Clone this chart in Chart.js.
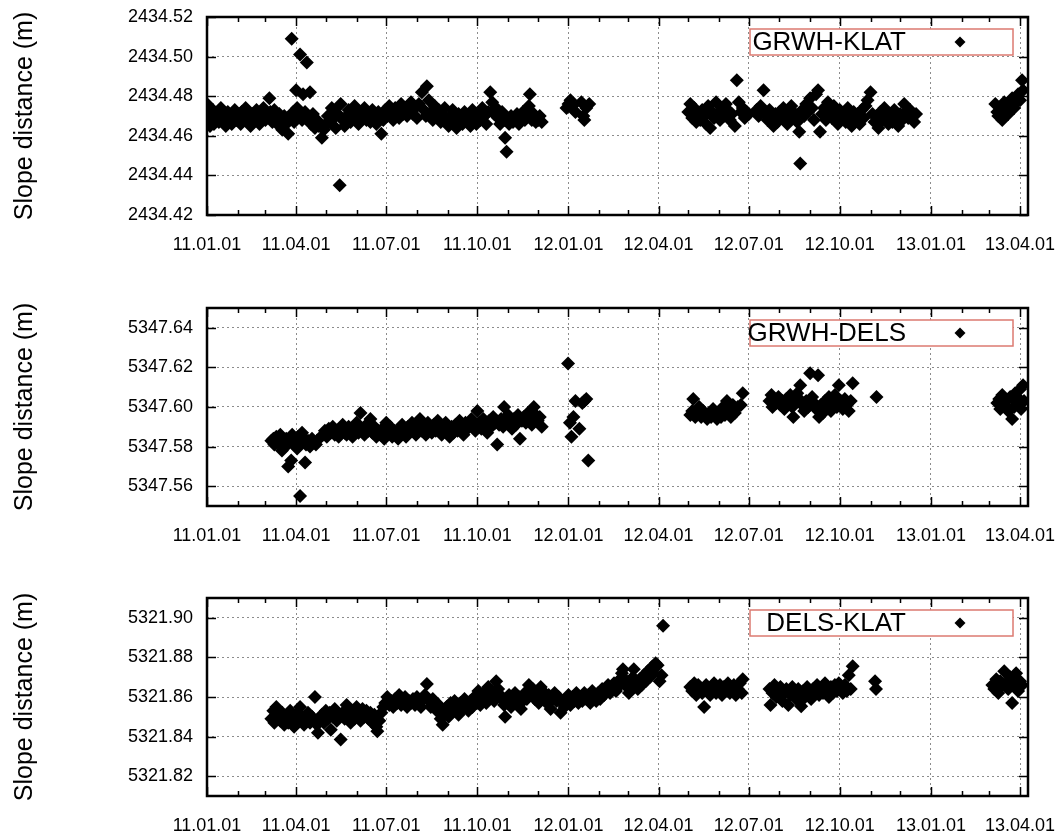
<!DOCTYPE html>
<html>
<head>
<meta charset="utf-8">
<script src="https://cdn.jsdelivr.net/npm/chart.js@4.4.1/dist/chart.umd.min.js"></script>
<style>
  html, body { margin: 0; padding: 0; background: #fff; }
  #wrap { position: relative; width: 1064px; height: 839px; overflow: hidden; }
  canvas { position: absolute; left: 0; }
</style>
</head>
<body>
<div id="wrap">
  <canvas id="c1" width="1064" height="259" style="top:0"></canvas>
  <canvas id="c2" width="1064" height="259" style="top:291px"></canvas>
  <canvas id="c3" width="1064" height="259" style="top:581px"></canvas>
</div>
<script>
// x values are days since 2011-01-01
const quarterLabels = ['11.01.01', '11.04.01', '11.07.01', '11.10.01', '12.01.01',
  '12.04.01', '12.07.01', '12.10.01', '13.01.01', '13.04.01'];
const xMax = 829;

// GRWH-KLAT
const grwhKlatTicks = [2434.42, 2434.44, 2434.46, 2434.48, 2434.50, 2434.52];
const grwhKlatRange = [2434.42, 2434.52];
const grwhKlatDays = [
  0, 1, 2, 3, 4, 6, 7, 9, 11, 12,
  14, 16, 18, 19, 21, 23, 25, 26, 28, 30,
  32, 34, 35, 37, 39, 41, 43, 44, 46, 48,
  50, 52, 53, 55, 57, 59, 61, 63, 64, 66,
  68, 70, 71, 73, 75, 76, 78, 80, 82, 84,
  85.5, 87, 88, 90, 91, 93, 94, 96, 97, 99,
  100.8, 102, 104, 105, 107, 109, 111, 113, 116, 118,
  120, 122, 124, 126, 128, 130, 132, 134, 135, 137,
  139, 141, 143, 145, 147, 149, 151, 153, 155, 157,
  159, 161, 163, 165, 167, 169, 171, 173, 175, 176,
  178, 180, 182, 184, 186, 188, 190, 192, 194, 196,
  198, 200, 202, 204, 206, 208, 210, 212, 214, 217,
  219, 221, 222, 224, 226, 228, 230, 232, 234, 236,
  238, 240, 242, 244, 246, 248, 250, 252, 254, 256,
  258, 260, 262, 264, 266, 268, 270, 272, 274, 276,
  278, 280, 282, 284, 286, 288, 290, 292, 294, 296,
  298, 300, 301, 302.5, 305, 307, 309, 311, 313, 315,
  317, 319, 321, 323, 325, 326, 328, 330, 332, 334.5,
  336, 338, 363, 365, 367, 369, 372, 378, 380, 381,
  383, 386, 486, 488, 490, 492, 494, 496, 498, 500,
  502, 504, 506, 508, 510, 512, 514, 516, 518, 520,
  522, 524, 526, 528, 530, 533, 535, 537, 539, 541,
  543, 545, 547, 555, 557, 559, 562, 564, 566, 568,
  570, 572, 574, 576, 578, 580, 582, 584, 586, 588,
  590, 592, 594, 596, 598, 599, 601, 603, 605, 607,
  609, 611, 613, 615, 617, 619, 621, 623, 625, 627,
  629, 631, 633, 635, 637, 639, 641, 643, 645, 647,
  649, 651, 653, 655, 657, 659, 661, 663, 665, 667,
  670, 672, 674, 676, 678, 680, 682, 684, 686, 688,
  690, 692, 694, 696, 698, 700, 702, 704, 706, 708,
  710, 712, 714, 716, 796, 798, 799, 801, 803, 805,
  807, 809, 811, 813, 815, 817, 819, 821, 823, 824
];
const grwhKlatDist = [
  2434.476, 2434.468, 2434.472, 2434.465, 2434.470, 2434.473, 2434.466, 2434.469, 2434.471, 2434.467,
  2434.474, 2434.468, 2434.470, 2434.465, 2434.472, 2434.469, 2434.466, 2434.471, 2434.473, 2434.468,
  2434.470, 2434.466, 2434.472, 2434.469, 2434.474, 2434.467, 2434.470, 2434.465, 2434.471, 2434.468,
  2434.473, 2434.469, 2434.466, 2434.471, 2434.474, 2434.468, 2434.470, 2434.479, 2434.472, 2434.467,
  2434.473, 2434.469, 2434.466, 2434.471, 2434.468, 2434.463, 2434.470, 2434.466, 2434.461, 2434.469,
  2434.509, 2434.472, 2434.467, 2434.483, 2434.474, 2434.470, 2434.501, 2434.468, 2434.481, 2434.472,
  2434.497, 2434.469, 2434.482, 2434.466, 2434.471, 2434.464, 2434.468, 2434.465, 2434.459, 2434.463,
  2434.466, 2434.470, 2434.467, 2434.474, 2434.469, 2434.464, 2434.471, 2434.435, 2434.476, 2434.468,
  2434.465, 2434.470, 2434.473, 2434.467, 2434.471, 2434.475, 2434.469, 2434.466, 2434.472, 2434.470,
  2434.474, 2434.468, 2434.471, 2434.467, 2434.473, 2434.470, 2434.466, 2434.472, 2434.469, 2434.461,
  2434.468, 2434.473, 2434.470, 2434.475, 2434.471, 2434.468, 2434.474, 2434.472, 2434.469, 2434.476,
  2434.471, 2434.474, 2434.470, 2434.473, 2434.477, 2434.471, 2434.474, 2434.469, 2434.476, 2434.482,
  2434.473, 2434.470, 2434.485, 2434.478, 2434.472, 2434.468, 2434.475, 2434.470, 2434.473, 2434.467,
  2434.471, 2434.474, 2434.468, 2434.465, 2434.470, 2434.473, 2434.467, 2434.464, 2434.471, 2434.469,
  2434.466, 2434.472, 2434.468, 2434.470, 2434.465, 2434.473, 2434.469, 2434.466, 2434.471, 2434.468,
  2434.474, 2434.470, 2434.466, 2434.472, 2434.482, 2434.477, 2434.471, 2434.474, 2434.469, 2434.466,
  2434.472, 2434.468, 2434.459, 2434.452, 2434.466, 2434.470, 2434.467, 2434.468, 2434.471, 2434.466,
  2434.469, 2434.472, 2434.468, 2434.470, 2434.475, 2434.481, 2434.468, 2434.471, 2434.467, 2434.468,
  2434.470, 2434.467, 2434.474, 2434.476, 2434.478, 2434.475, 2434.472, 2434.477, 2434.470, 2434.468,
  2434.474, 2434.476, 2434.472, 2434.476, 2434.469, 2434.474, 2434.467, 2434.471, 2434.468, 2434.473,
  2434.470, 2434.466, 2434.475, 2434.464, 2434.472, 2434.469, 2434.477, 2434.471, 2434.468, 2434.474,
  2434.470, 2434.476, 2434.473, 2434.468, 2434.471, 2434.465, 2434.488, 2434.477, 2434.472, 2434.474,
  2434.469, 2434.472, 2434.471, 2434.473, 2434.470, 2434.475, 2434.483, 2434.471, 2434.468, 2434.473,
  2434.469, 2434.465, 2434.471, 2434.467, 2434.472, 2434.469, 2434.474, 2434.470, 2434.466, 2434.472,
  2434.475, 2434.469, 2434.471, 2434.467, 2434.462, 2434.446, 2434.473, 2434.470, 2434.476, 2434.472,
  2434.479, 2434.474, 2434.468, 2434.481, 2434.483, 2434.462, 2434.471, 2434.474, 2434.468, 2434.477,
  2434.472, 2434.469, 2434.475, 2434.470, 2434.466, 2434.473, 2434.469, 2434.471, 2434.467, 2434.474,
  2434.470, 2434.465, 2434.472, 2434.468, 2434.471, 2434.466, 2434.473, 2434.469, 2434.475, 2434.478,
  2434.482, 2434.471, 2434.467, 2434.470, 2434.464, 2434.472, 2434.468, 2434.474, 2434.470, 2434.466,
  2434.471, 2434.467, 2434.473, 2434.469, 2434.465, 2434.471, 2434.468, 2434.476, 2434.472, 2434.469,
  2434.473, 2434.470, 2434.467, 2434.471, 2434.476, 2434.472, 2434.470, 2434.474, 2434.468, 2434.477,
  2434.473, 2434.471, 2434.475, 2434.479, 2434.474, 2434.477, 2434.481, 2434.478, 2434.488, 2434.483
];

// GRWH-DELS
const grwhDelsTicks = [5347.56, 5347.58, 5347.60, 5347.62, 5347.64];
const grwhDelsRange = [5347.55, 5347.65];
const grwhDelsDays = [
  65, 67, 68, 70, 72, 74, 75.7, 77, 79, 80,
  82, 83, 85, 86, 88, 89, 91, 92, 94, 95,
  96, 98, 99, 100, 102, 104, 106, 108, 110, 111,
  117, 119, 121, 123, 125, 127, 129, 131, 133, 135,
  137, 139, 141, 143, 145, 147, 149, 151, 153, 155,
  157, 159, 161, 163, 165, 167, 169, 171, 173, 175,
  177, 179, 181, 183, 185, 187, 189, 191, 193, 195,
  197, 199, 201, 203, 205, 207, 209, 211, 213, 215,
  217, 219, 221, 223, 225, 227, 229, 231, 233, 235,
  237, 239, 241, 243, 245, 247, 249, 251, 253, 255,
  257, 259, 261, 263, 265, 267, 269, 271, 273, 275,
  277, 279, 281, 283, 285, 287, 289, 291, 293, 295,
  297, 299, 300, 302, 304, 306, 308, 310, 312, 314,
  316, 318, 320, 322, 324, 326, 328, 330, 332, 334,
  336, 338, 364.6, 366.5, 368, 370, 372, 376, 379, 381,
  383, 385, 488, 490, 491, 493, 495, 497, 499, 501,
  503, 505, 507, 509, 511, 513, 515, 517, 519, 521,
  523, 525, 527, 529, 531, 533, 536, 539, 541, 568,
  570, 571, 573, 575, 577, 579, 581, 583, 585, 587,
  589, 591, 592, 594, 596, 598, 599, 601, 603, 605,
  607, 609, 611, 613, 615, 617, 618, 620, 622, 624,
  626, 628, 630, 632, 634, 636, 638, 640, 642, 644,
  646, 648, 650, 652, 676, 798, 800, 801, 803, 805,
  807, 809, 811, 813, 815, 816, 818, 820, 821, 822,
  824, 825
];
const grwhDelsDist = [
  5347.583, 5347.584, 5347.581, 5347.585, 5347.582, 5347.586, 5347.578, 5347.583, 5347.580, 5347.584,
  5347.570, 5347.582, 5347.573, 5347.586, 5347.581, 5347.583, 5347.579, 5347.585, 5347.555, 5347.582,
  5347.587, 5347.584, 5347.572, 5347.581, 5347.583, 5347.580, 5347.584, 5347.582, 5347.581, 5347.583,
  5347.586, 5347.588, 5347.585, 5347.589, 5347.587, 5347.590, 5347.586, 5347.588, 5347.585, 5347.589,
  5347.591, 5347.587, 5347.586, 5347.590, 5347.588, 5347.585, 5347.589, 5347.592, 5347.587, 5347.597,
  5347.589, 5347.586, 5347.591, 5347.588, 5347.594, 5347.587, 5347.590, 5347.585, 5347.588, 5347.586,
  5347.589, 5347.584, 5347.592, 5347.587, 5347.590, 5347.585, 5347.588, 5347.586, 5347.584, 5347.589,
  5347.591, 5347.587, 5347.585, 5347.590, 5347.588, 5347.592, 5347.589, 5347.586, 5347.591, 5347.594,
  5347.588, 5347.590, 5347.586, 5347.592, 5347.589, 5347.587, 5347.591, 5347.588, 5347.593, 5347.590,
  5347.586, 5347.589, 5347.592, 5347.588, 5347.585, 5347.590, 5347.587, 5347.591, 5347.588, 5347.593,
  5347.590, 5347.586, 5347.592, 5347.589, 5347.591, 5347.594, 5347.590, 5347.588, 5347.598, 5347.592,
  5347.589, 5347.594, 5347.591, 5347.587, 5347.593, 5347.590, 5347.595, 5347.592, 5347.581, 5347.591,
  5347.594, 5347.590, 5347.600, 5347.593, 5347.596, 5347.592, 5347.589, 5347.594, 5347.591, 5347.596,
  5347.584, 5347.593, 5347.595, 5347.592, 5347.597, 5347.594, 5347.591, 5347.600, 5347.596, 5347.593,
  5347.595, 5347.590, 5347.622, 5347.592, 5347.585, 5347.595, 5347.603, 5347.589, 5347.602, 5347.603,
  5347.604, 5347.573, 5347.596, 5347.598, 5347.604, 5347.595, 5347.597, 5347.600, 5347.595, 5347.598,
  5347.596, 5347.594, 5347.597, 5347.595, 5347.599, 5347.596, 5347.594, 5347.597, 5347.595, 5347.600,
  5347.596, 5347.603, 5347.598, 5347.595, 5347.601, 5347.597, 5347.600, 5347.601, 5347.607, 5347.603,
  5347.606, 5347.600, 5347.604, 5347.602, 5347.605, 5347.601, 5347.603, 5347.599, 5347.604, 5347.602,
  5347.606, 5347.600, 5347.595, 5347.603, 5347.607, 5347.604, 5347.611, 5347.601, 5347.598, 5347.603,
  5347.600, 5347.617, 5347.605, 5347.602, 5347.599, 5347.616, 5347.595, 5347.601, 5347.597, 5347.603,
  5347.600, 5347.605, 5347.598, 5347.602, 5347.606, 5347.600, 5347.611, 5347.603, 5347.599, 5347.604,
  5347.601, 5347.598, 5347.603, 5347.612, 5347.605, 5347.602, 5347.604, 5347.599, 5347.606, 5347.601,
  5347.603, 5347.598, 5347.605, 5347.594, 5347.600, 5347.607, 5347.602, 5347.604, 5347.609, 5347.599,
  5347.611, 5347.603
];

// DELS-KLAT
const delsKlatTicks = [5321.82, 5321.84, 5321.86, 5321.88, 5321.90];
const delsKlatRange = [5321.81, 5321.91];
const delsKlatDays = [
  65, 67, 68, 70, 72, 74, 76, 78, 80, 82,
  84, 86, 88, 90, 92, 94, 96, 98, 100, 102,
  104, 106, 108, 109, 111, 112, 114, 116, 118, 120,
  122, 124, 125, 127, 129, 131, 133, 135, 137, 139,
  141, 143, 145, 147, 149, 151, 153, 155, 157, 159,
  161, 163, 165, 167, 169, 171, 172, 174, 176, 178,
  180, 182, 184, 186, 188, 190, 192, 194, 196, 198,
  200, 202, 204, 206, 208, 210, 212, 214, 216, 218,
  220, 222, 224, 226, 228, 230, 232, 234, 236, 238,
  240, 242, 244, 246, 248, 250, 252, 254, 256, 258,
  260, 262, 264, 266, 268, 270, 272, 274, 276, 278,
  280, 282, 284, 286, 288, 290, 292, 294, 296, 298,
  300, 301, 303, 305, 307, 309, 311, 313, 315, 317,
  319, 321, 323, 325, 327, 329, 331, 333, 335, 337,
  339, 341, 343, 345, 347, 349, 351, 353, 355, 357,
  359, 361, 363, 365, 367, 369, 371, 373, 375, 377,
  379, 381, 383, 385, 387, 389, 391, 393, 395, 397,
  399, 401, 403, 405, 407, 409, 411, 413, 415, 417,
  419, 420, 422, 424, 426, 428, 430, 431, 433, 435,
  437, 439, 441, 443, 445, 447, 449, 451, 453, 455,
  457, 459, 460.5, 488, 490, 492, 494, 496, 498, 500,
  502, 504, 506, 508, 510, 512, 514, 516, 518, 520,
  522, 524, 526, 528, 530, 532, 534, 536, 538, 540,
  541, 568, 569, 571, 573, 575, 577, 579, 581, 583,
  585, 587, 589, 591, 593, 595, 597, 599, 600, 602,
  604, 606, 608, 610, 612, 614, 616, 618, 620, 622,
  624, 626, 628, 630, 632, 634, 636, 638, 640, 642,
  644, 646, 648, 650, 652, 674.6, 675.5, 793, 795, 797,
  799, 801, 803, 805, 807, 809, 811, 813, 815, 817,
  819, 821, 823
];
const delsKlatDist = [
  5321.849, 5321.853, 5321.847, 5321.855, 5321.850, 5321.848, 5321.852, 5321.846, 5321.850, 5321.847,
  5321.853, 5321.849, 5321.845, 5321.851, 5321.848, 5321.855, 5321.850, 5321.846, 5321.849, 5321.852,
  5321.847, 5321.850, 5321.848, 5321.860, 5321.846, 5321.842, 5321.849, 5321.851, 5321.847, 5321.853,
  5321.849, 5321.852, 5321.8435, 5321.850, 5321.854, 5321.848, 5321.851, 5321.8385, 5321.852, 5321.849,
  5321.856, 5321.850, 5321.847, 5321.853, 5321.849, 5321.855, 5321.851, 5321.848, 5321.854, 5321.850,
  5321.853, 5321.849, 5321.852, 5321.847, 5321.851, 5321.845, 5321.8427, 5321.848, 5321.852, 5321.855,
  5321.857, 5321.860, 5321.856, 5321.858, 5321.855, 5321.859, 5321.857, 5321.861, 5321.856, 5321.858,
  5321.860, 5321.855, 5321.858, 5321.857, 5321.859, 5321.856, 5321.860, 5321.858, 5321.855, 5321.859,
  5321.861, 5321.8666, 5321.858, 5321.855, 5321.859, 5321.857, 5321.853, 5321.856, 5321.849, 5321.846,
  5321.852, 5321.855, 5321.850, 5321.857, 5321.853, 5321.858, 5321.855, 5321.851, 5321.857, 5321.854,
  5321.859, 5321.856, 5321.853, 5321.858, 5321.855, 5321.860, 5321.857, 5321.863, 5321.856, 5321.859,
  5321.862, 5321.857, 5321.865, 5321.860, 5321.863, 5321.858, 5321.868, 5321.864, 5321.861, 5321.859,
  5321.856, 5321.850, 5321.858, 5321.861, 5321.855, 5321.859, 5321.862, 5321.857, 5321.860, 5321.854,
  5321.858, 5321.862, 5321.859, 5321.866, 5321.861, 5321.864, 5321.859, 5321.862, 5321.857, 5321.865,
  5321.860, 5321.862, 5321.857, 5321.861, 5321.854, 5321.859, 5321.862, 5321.858, 5321.860, 5321.852,
  5321.857, 5321.855, 5321.859, 5321.861, 5321.856, 5321.860, 5321.858, 5321.862, 5321.857, 5321.860,
  5321.858, 5321.862, 5321.859, 5321.861, 5321.857, 5321.863, 5321.860, 5321.858, 5321.862, 5321.859,
  5321.864, 5321.861, 5321.863, 5321.866, 5321.862, 5321.864, 5321.867, 5321.863, 5321.865, 5321.869,
  5321.872, 5321.874, 5321.866, 5321.868, 5321.862, 5321.865, 5321.870, 5321.874, 5321.867, 5321.864,
  5321.869, 5321.866, 5321.871, 5321.868, 5321.873, 5321.870, 5321.875, 5321.872, 5321.877, 5321.876,
  5321.868, 5321.871, 5321.896, 5321.865, 5321.863, 5321.867, 5321.861, 5321.866, 5321.864, 5321.862,
  5321.855, 5321.866, 5321.863, 5321.861, 5321.865, 5321.867, 5321.862, 5321.864, 5321.866, 5321.861,
  5321.865, 5321.863, 5321.867, 5321.862, 5321.864, 5321.866, 5321.861, 5321.864, 5321.867, 5321.862,
  5321.869, 5321.864, 5321.856, 5321.862, 5321.866, 5321.860, 5321.863, 5321.865, 5321.858, 5321.862,
  5321.864, 5321.856, 5321.861, 5321.865, 5321.862, 5321.859, 5321.864, 5321.861, 5321.8553, 5321.863,
  5321.860, 5321.865, 5321.862, 5321.859, 5321.864, 5321.862, 5321.866, 5321.861, 5321.864, 5321.862,
  5321.867, 5321.863, 5321.860, 5321.865, 5321.862, 5321.866, 5321.863, 5321.867, 5321.864, 5321.862,
  5321.866, 5321.863, 5321.871, 5321.864, 5321.8755, 5321.868, 5321.864, 5321.866, 5321.864, 5321.869,
  5321.862, 5321.868, 5321.866, 5321.873, 5321.867, 5321.864, 5321.870, 5321.857, 5321.866, 5321.872,
  5321.863, 5321.868, 5321.866
];

const FONT = '"Liberation Sans", Arial, Helvetica, sans-serif';
Chart.defaults.font.family = FONT;
Chart.defaults.color = '#000';

const baseDay = Date.UTC(2011, 0, 1);
const toDay = (s) => {
  const p = s.split('.').map(Number);
  return (Date.UTC(2000 + p[0], p[1] - 1, p[2]) - baseDay) / 86400000;
};
const quarterDays = quarterLabels.map(toDay);
const monthDays = [];
for (let y = 2011; y <= 2013; y++) {
  for (let m = 0; m < 12; m++) {
    const d = (Date.UTC(y, m, 1) - baseDay) / 86400000;
    if (d <= xMax) monthDays.push(d);
  }
}

// box round the plot with inward tick marks, like gnuplot
const framePlugin = {
  id: 'frame',
  beforeDatasetsDraw(chart) {
    const { ctx, chartArea: a, scales } = chart;
    ctx.save();
    ctx.strokeStyle = '#000';
    ctx.lineWidth = 1.5;
    ctx.beginPath();
    monthDays.forEach((d) => {
      const px = Math.round(scales.x.getPixelForValue(d)) + 0.5;
      const len = quarterDays.includes(d) ? 9 : 5;
      ctx.moveTo(px, a.top); ctx.lineTo(px, a.top + len);
      ctx.moveTo(px, a.bottom); ctx.lineTo(px, a.bottom - len);
    });
    scales.y.ticks.forEach((t) => {
      const py = Math.round(scales.y.getPixelForValue(t.value)) + 0.5;
      ctx.moveTo(a.left, py); ctx.lineTo(a.left + 9, py);
      ctx.moveTo(a.right, py); ctx.lineTo(a.right - 9, py);
    });
    ctx.stroke();
    ctx.lineWidth = 2.5;
    ctx.strokeRect(a.left, a.top, a.right - a.left, a.bottom - a.top);
    ctx.restore();
  }
};

// legend: label on the left, marker on the right, thin red box
const boxLegend = {
  id: 'boxLegend',
  afterDatasetsDraw(chart) {
    const { ctx, chartArea: a } = chart;
    const label = chart.data.datasets[0].label;
    const right = a.right - 15, left = right - 263, top = a.top + 12, h = 26;
    const cy = top + h / 2;
    ctx.save();
    ctx.fillStyle = '#fff';
    ctx.fillRect(left, top, right - left, h);
    ctx.strokeStyle = '#dc7a70';
    ctx.lineWidth = 1.5;
    ctx.strokeRect(left, top, right - left, h);
    ctx.fillStyle = '#000';
    ctx.font = '26px ' + FONT;
    ctx.textAlign = 'right';
    ctx.textBaseline = 'middle';
    ctx.fillText(label, a.right - 122, cy + 1);
    const mx = a.right - 68, r = 5.5;
    ctx.beginPath();
    ctx.moveTo(mx - r, cy); ctx.lineTo(mx, cy - r); ctx.lineTo(mx + r, cy); ctx.lineTo(mx, cy + r);
    ctx.closePath();
    ctx.fill();
    ctx.restore();
  }
};

function makePanel(id, label, days, dist, yTicks, yRange) {
  return new Chart(document.getElementById(id), {
    type: 'scatter',
    data: {
      datasets: [{
        label: label,
        data: days.map((d, i) => ({ x: d, y: dist[i] })),
        pointStyle: 'rectRot',
        pointRadius: 7,
        pointBorderWidth: 0,
        backgroundColor: '#000',
        borderColor: '#000'
      }]
    },
    options: {
      responsive: false,
      animation: false,
      devicePixelRatio: 1,
      layout: { padding: { top: 17, right: 36, left: 0, bottom: 0 } },
      plugins: { legend: { display: false }, tooltip: { enabled: false } },
      scales: {
        x: {
          type: 'linear',
          min: 0,
          max: xMax,
          afterBuildTicks: (scale) => { scale.ticks = quarterDays.map((v) => ({ value: v })); },
          afterFit: (scale) => { scale.height = 44; scale.paddingLeft = 0; scale.paddingRight = 0; },
          ticks: {
            autoSkip: false,
            maxRotation: 0,
            padding: 19,
            font: { size: 18 },
            callback: (v, i) => quarterLabels[i]
          },
          grid: { color: '#8c8c8c', lineWidth: 1, drawTicks: false },
          border: { display: false, dash: [2, 3] }
        },
        y: {
          min: yRange[0],
          max: yRange[1],
          afterBuildTicks: (scale) => { scale.ticks = yTicks.map((v) => ({ value: v })); },
          afterFit: (scale) => { scale.width = 207; scale.paddingTop = 0; scale.paddingBottom = 0; },
          ticks: {
            padding: 14,
            font: { size: 18 },
            callback: (v) => v.toFixed(2)
          },
          grid: { color: '#8c8c8c', lineWidth: 1, drawTicks: false },
          border: { display: false, dash: [2, 3] },
          title: {
            display: true,
            text: 'Slope distance (m)',
            font: { size: 25 },
            padding: { top: 10, bottom: 0 }
          }
        }
      }
    },
    plugins: [framePlugin, boxLegend]
  });
}

makePanel('c1', 'GRWH-KLAT', grwhKlatDays, grwhKlatDist, grwhKlatTicks, grwhKlatRange);
makePanel('c2', 'GRWH-DELS', grwhDelsDays, grwhDelsDist, grwhDelsTicks, grwhDelsRange);
makePanel('c3', 'DELS-KLAT', delsKlatDays, delsKlatDist, delsKlatTicks, delsKlatRange);
</script>
</body>
</html>
